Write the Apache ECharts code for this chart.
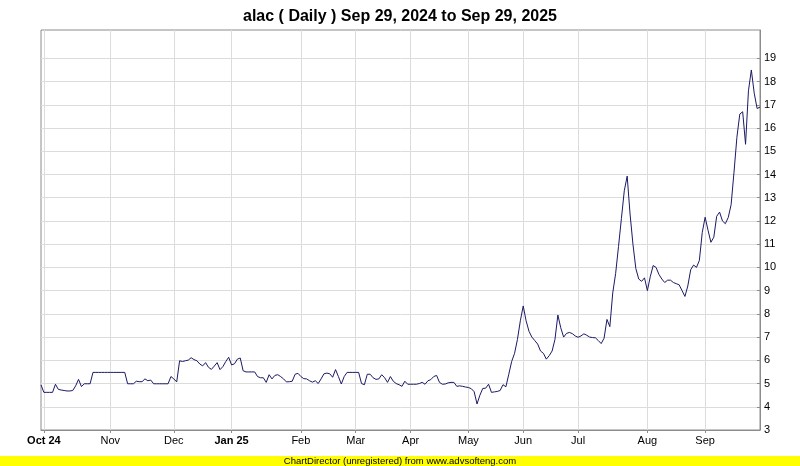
<!DOCTYPE html>
<html>
<head>
<meta charset="utf-8">
<script src="https://cdn.jsdelivr.net/npm/echarts@6/dist/echarts.min.js"></script>
<style>
html,body{margin:0;padding:0;background:#fff;}
#c{width:800px;height:466px;}
</style>
</head>
<body>
<div id="c"></div>
<script>
const chartTitle = 'alac ( Daily ) Sep 29, 2024 to Sep 29, 2025';
const footerText = 'ChartDirector (unregistered) from www.advsofteng.com';

// Daily closing prices (trading days, Sep 30 2024 .. Sep 29 2025)
const prices = [
  4.94, 4.62, 4.62, 4.62, 4.62, 4.97, 4.75, 4.72, 4.70, 4.68,
  4.68, 4.70, 4.90, 5.18, 4.87, 4.99, 4.99, 4.99, 5.48, 5.48,
  5.48, 5.48, 5.48, 5.48, 5.48, 5.48, 5.48, 5.48, 5.48, 5.48,
  4.99, 4.99, 4.99, 5.10, 5.08, 5.08, 5.20, 5.12, 5.15, 4.99,
  4.99, 4.99, 4.99, 4.99, 4.99, 5.30, 5.20, 5.07, 5.98, 5.95,
  5.98, 6.01, 6.11, 6.03, 5.98, 5.84, 5.76, 5.90, 5.70, 5.61,
  5.75, 5.90, 5.60, 5.73, 5.95, 6.13, 5.80, 5.85, 6.05, 6.10,
  5.55, 5.50, 5.50, 5.50, 5.50, 5.30, 5.25, 5.25, 5.05, 5.38,
  5.20, 5.35, 5.38, 5.30, 5.20, 5.07, 5.08, 5.10, 5.40, 5.44,
  5.30, 5.21, 5.20, 5.12, 5.06, 5.12, 5.00, 5.20, 5.42, 5.45,
  5.42, 5.27, 5.60, 5.30, 4.98, 5.30, 5.48, 5.48, 5.48, 5.48,
  5.48, 5.00, 4.95, 5.40, 5.40, 5.25, 5.18, 5.20, 5.38, 5.25,
  5.05, 5.30, 5.10, 5.00, 4.95, 4.88, 5.10, 4.97, 4.97, 4.97,
  4.97, 5.00, 5.05, 4.97, 5.12, 5.17, 5.30, 5.35, 5.05, 4.97,
  4.98, 5.03, 5.05, 5.05, 4.88, 4.90, 4.88, 4.85, 4.83, 4.78,
  4.65, 4.12, 4.50, 4.79, 4.80, 4.97, 4.62, 4.64, 4.66, 4.70,
  4.95, 4.86, 5.40, 5.95, 6.30, 6.90, 7.70, 8.34, 7.70, 7.25,
  7.00, 6.85, 6.70, 6.40, 6.30, 6.05, 6.20, 6.40, 6.90, 7.95,
  7.40, 7.00, 7.16, 7.20, 7.15, 7.05, 6.99, 7.05, 7.14, 7.08,
  7.00, 6.98, 6.97, 6.85, 6.72, 6.95, 7.76, 7.45, 8.90, 9.73,
  10.90, 12.10, 13.30, 13.93, 12.30, 11.00, 9.95, 9.50, 9.40, 9.55,
  9.00, 9.60, 10.08, 10.00, 9.70, 9.50, 9.35, 9.45, 9.45, 9.35,
  9.30, 9.25, 9.00, 8.75, 9.20, 9.90, 10.10, 10.00, 10.30, 11.50,
  12.16, 11.60, 11.08, 11.30, 12.20, 12.38, 12.00, 11.88, 12.15, 12.70,
  14.10, 15.60, 16.60, 16.70, 15.30, 17.60, 18.50, 17.50, 16.84, 16.90
];

// Month tick labels and the trading-day index where each month starts
const monthLabels = ['Oct 24', 'Nov', 'Dec', 'Jan 25', 'Feb', 'Mar', 'Apr', 'May', 'Jun', 'Jul', 'Aug', 'Sep'];
const monthStartDay = [1, 24, 46, 66, 90, 109, 128, 148, 167, 186, 210, 230];
const boldLabels = ['Oct 24', 'Jan 25'];

const yTicks = [3, 4, 5, 6, 7, 8, 9, 10, 11, 12, 13, 14, 15, 16, 17, 18, 19];
const yMin = 3;
const yMax = 20.22;

const days = prices.map((_, i) => String(i));
const labelAt = {};
monthStartDay.forEach((d, k) => { labelAt[String(d)] = monthLabels[k]; });
const isMonth = (i) => labelAt[String(i)] !== undefined;

const axisFont = "'Liberation Sans',Arial,sans-serif";

const chart = echarts.init(document.getElementById('c'), null, {renderer: 'canvas'});
chart.setOption({
  animation: false,
  backgroundColor: '#ffffff',
  title: {
    text: chartTitle,
    left: 'center',
    top: 4,
    textStyle: {fontFamily: "'Liberation Sans',Arial,sans-serif", fontSize: 16, fontWeight: 'bold', color: '#000'}
  },
  grid: {left: 41, right: 40, top: 30, bottom: 36, show: true, borderColor: '#8c8c8c', borderWidth: 1, backgroundColor: '#fff'},
  xAxis: {
    type: 'category',
    data: days,
    boundaryGap: false,
    axisLine: {show: true, lineStyle: {color: '#8c8c8c', width: 1}},
    axisTick: {show: true, interval: (i) => isMonth(i), length: 3, lineStyle: {color: '#8c8c8c'}},
    axisLabel: {
      interval: (i) => isMonth(i),
      formatter: (v) => {
        const l = labelAt[v];
        if (l === undefined) return '';
        return boldLabels.indexOf(l) >= 0 ? '{b|' + l + '}' : l;
      },
      fontFamily: axisFont, fontSize: 11, color: '#000', margin: 5,
      rich: {b: {fontFamily: axisFont, fontSize: 11, fontWeight: 'bold', color: '#000'}}
    },
    splitLine: {show: true, interval: (i) => isMonth(i), lineStyle: {color: '#dcdcdc', width: 1}}
  },
  yAxis: {
    type: 'value',
    position: 'right',
    min: yMin,
    max: yMax,
    axisLine: {show: true, lineStyle: {color: '#8c8c8c', width: 1}},
    axisTick: {show: true, inside: true, length: 3, customValues: yTicks, lineStyle: {color: '#8c8c8c'}},
    axisLabel: {customValues: yTicks, fontFamily: axisFont, fontSize: 11, color: '#000', margin: 4},
    splitLine: {show: true, lineStyle: {color: '#dcdcdc', width: 1}}
  },
  series: [{
    type: 'line',
    data: prices,
    showSymbol: false,
    symbol: 'none',
    lineStyle: {color: '#1a1a66', width: 1},
    silent: true
  }],
  graphic: [
    {type: 'rect', left: 0, top: 456, shape: {width: 800, height: 10}, style: {fill: '#ffff00'}, silent: true},
    {type: 'text', left: 'center', top: 456, style: {text: footerText, font: "9.5px 'Liberation Sans',Arial,sans-serif", fill: '#000'}, silent: true}
  ]
});
</script>
</body>
</html>
